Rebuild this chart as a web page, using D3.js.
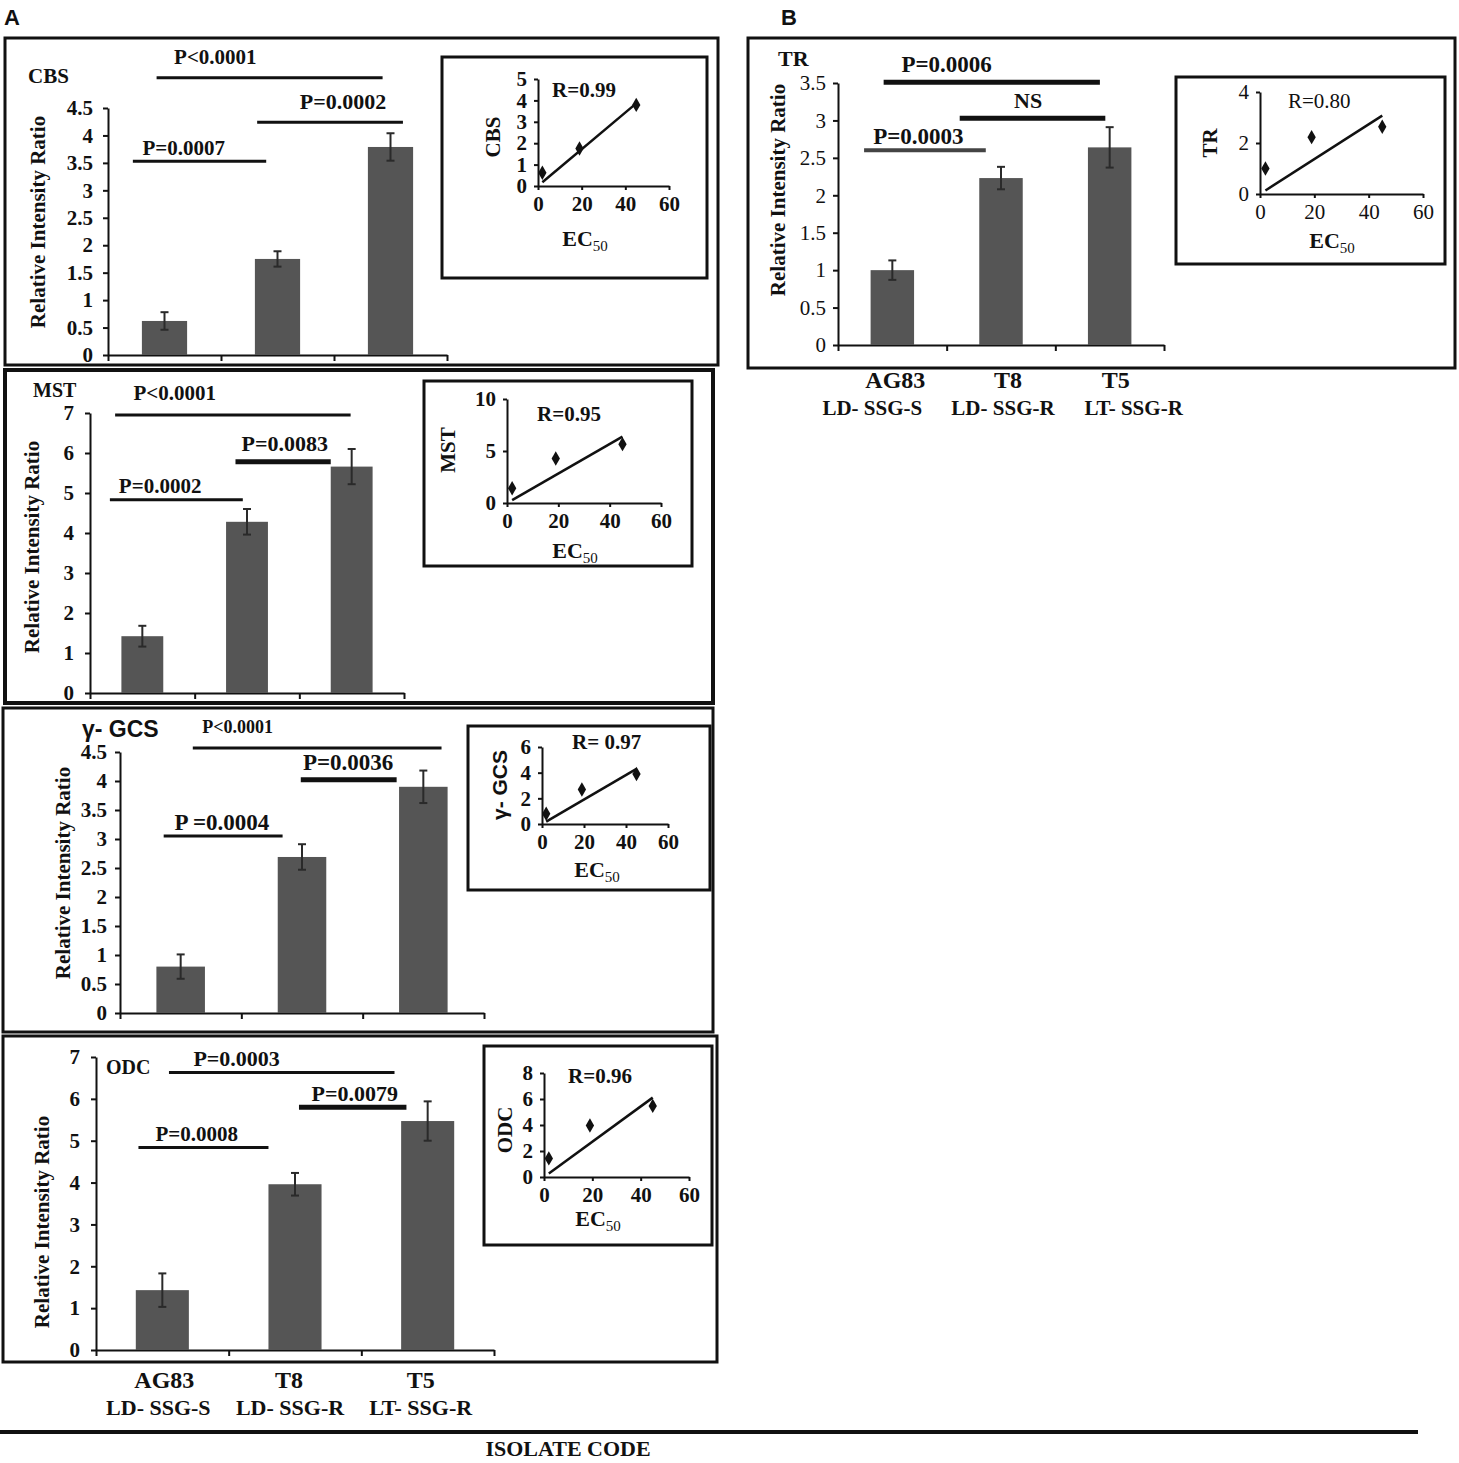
<!DOCTYPE html>
<html>
<head>
<meta charset="utf-8">
<script src="https://cdn.jsdelivr.net/npm/d3@7"></script>
<style>
  body { margin: 0; background: #fff; }
  svg text { font-family: "Liberation Serif", "Times New Roman", serif; font-weight: bold; fill: #111; }
  .tick line, .domain { stroke: #111; stroke-width: 2; }
</style>
</head>
<body>
<svg id="fig" width="1459" height="1463"></svg>
<script>
// isolates and their EC50
const isolates = ["AG83", "T8", "T5"];
const phenotypes = ["LD- SSG-S", "LD- SSG-R", "LT- SSG-R"];
const ec50 = [2, 19, 45];

// relative intensity ratio, mean and error
const cbsMean = [0.62, 1.75, 3.79];
const cbsErr = [0.16, 0.14, 0.25];
const mstMean = [1.42, 4.28, 5.66];
const mstErr = [0.26, 0.32, 0.44];
const gcsMean = [0.80, 2.69, 3.90];
const gcsErr = [0.21, 0.22, 0.28];
const odcMean = [1.43, 3.96, 5.47];
const odcErr = [0.40, 0.27, 0.47];
const trMean = [1.00, 2.23, 2.64];
const trErr = [0.13, 0.15, 0.27];

// p value labels
const cbsP = ["P<0.0001", "P=0.0002", "P=0.0007"];
const mstP = ["P<0.0001", "P=0.0083", "P=0.0002"];
const gcsP = ["P<0.0001", "P=0.0036", "P =0.0004"];
const odcP = ["P=0.0003", "P=0.0079", "P=0.0008"];
const trP = ["P=0.0006", "NS", "P=0.0003"];

// correlation coefficients
const cbsR = "R=0.99", mstR = "R=0.95", gcsR = "R= 0.97", odcR = "R=0.96", trR = "R=0.80";

// tick values
const ticks45 = [0, 0.5, 1, 1.5, 2, 2.5, 3, 3.5, 4, 4.5];
const ticks7 = [0, 1, 2, 3, 4, 5, 6, 7];
const ticks35 = [0, 0.5, 1, 1.5, 2, 2.5, 3, 3.5];
const ec50Ticks = [0, 20, 40, 60];
const cbsInsetTicks = [0, 1, 2, 3, 4, 5];
const mstInsetTicks = [0, 5, 10];
const gcsInsetTicks = [0, 2, 4, 6];
const odcInsetTicks = [0, 2, 4, 6, 8];
const trInsetTicks = [0, 2, 4];

const svg = d3.select("#fig");

// panel frames
const frames = [
    {x: 5, y: 38, w: 713, h: 327, sw: 3},
    {x: 5, y: 370, w: 708, h: 333, sw: 4},
    {x: 3, y: 708, w: 710, h: 324, sw: 3},
    {x: 3, y: 1036, w: 714, h: 326, sw: 3},
    {x: 748, y: 38, w: 707, h: 330, sw: 3}
];
svg.selectAll("rect.frame")
    .data(frames)
    .join("rect")
    .attr("class", "frame")
    .attr("x", d => d.x).attr("y", d => d.y)
    .attr("width", d => d.w).attr("height", d => d.h)
    .attr("fill", "none").attr("stroke", "#111")
    .attr("stroke-width", d => d.sw);

svg.append("text").attr("x", 4).attr("y", 25)
    .style("font-family", "'Liberation Sans', Arial, sans-serif").style("font-size", "22px").text("A");
svg.append("text").attr("x", 781).attr("y", 25)
    .style("font-family", "'Liberation Sans', Arial, sans-serif").style("font-size", "22px").text("B");

function barPanel(c) {
    const g = svg.append("g");
    const x = d3.scaleBand().domain(isolates).range([c.x0, c.x1]).paddingInner(0.6).paddingOuter(0.3);
    const u = d3.scaleLinear().domain([0, 3]).range([c.x0, c.x1]);
    const y = d3.scaleLinear().domain([0, c.ticks[c.ticks.length - 1]]).range([c.y0, c.yTop]);
    const rows = isolates.map((k, i) => ({k, m: c.mean[i], e: c.err[i]}));

    const yAxis = g.append("g")
        .attr("transform", `translate(${c.x0},0)`)
        .call(d3.axisLeft(y).tickValues(c.ticks).tickSize(5).tickSizeOuter(0).tickFormat(d => d));
    yAxis.selectAll("text")
        .style("font-size", "21px")
        .style("font-weight", c.thin ? "normal" : "bold")
        .attr("x", -c.tickGap);

    g.append("g")
        .attr("transform", `translate(0,${c.y0})`)
        .call(d3.axisBottom(u).tickValues([0, 1, 2, 3]).tickSize(6).tickSizeOuter(0).tickFormat(""));

    g.selectAll("rect.bar")
        .data(rows)
        .join("rect")
        .attr("class", "bar")
        .attr("x", d => x(d.k)).attr("width", x.bandwidth())
        .attr("y", d => y(d.m)).attr("height", d => y(0) - y(d.m))
        .attr("fill", "#555");

    const eb = g.selectAll("g.err").data(rows).join("g").attr("class", "err")
        .attr("stroke", "#2a2a2a").attr("stroke-width", 2);
    eb.append("line")
        .attr("x1", d => x(d.k) + x.bandwidth() / 2).attr("x2", d => x(d.k) + x.bandwidth() / 2)
        .attr("y1", d => y(d.m + d.e)).attr("y2", d => y(d.m - d.e));
    eb.append("line")
        .attr("x1", d => x(d.k) + x.bandwidth() / 2 - 4).attr("x2", d => x(d.k) + x.bandwidth() / 2 + 4)
        .attr("y1", d => y(d.m + d.e)).attr("y2", d => y(d.m + d.e));
    eb.append("line")
        .attr("x1", d => x(d.k) + x.bandwidth() / 2 - 4).attr("x2", d => x(d.k) + x.bandwidth() / 2 + 4)
        .attr("y1", d => y(d.m - d.e)).attr("y2", d => y(d.m - d.e));

    // significance bars
    const br = c.brackets.map((b, i) => ({...b, label: c.pLabels[i]}));
    g.selectAll("line.sig")
        .data(br)
        .join("line")
        .attr("class", "sig")
        .attr("x1", d => u(d.from)).attr("x2", d => u(d.to))
        .attr("y1", d => y(d.level)).attr("y2", d => y(d.level))
        .attr("stroke", d => d.color || "#111")
        .attr("stroke-width", d => d.w);
    g.selectAll("text.sig")
        .data(br)
        .join("text")
        .attr("class", "sig")
        .attr("x", d => u(d.tx))
        .attr("y", d => y(d.level) + d.dy)
        .attr("text-anchor", "middle")
        .style("font-size", d => d.fs + "px")
        .text(d => d.label);

    g.append("text")
        .attr("transform", `translate(${c.titleX},${c.titleY}) rotate(-90)`)
        .attr("text-anchor", "middle")
        .style("font-size", "21px")
        .text("Relative Intensity Ratio");

    g.append("text")
        .attr("x", c.nameX).attr("y", c.nameY)
        .style("font-size", c.nameSize + "px")
        .style("font-family", c.nameSans ? "'Liberation Sans', Arial, sans-serif" : null)
        .text(c.name);

    if (c.catY) {
        const shift = c.catShift || [[0, 0], [0, 0], [0, 0]];
        const cl = g.selectAll("g.cat").data(isolates).join("g").attr("class", "cat")
            .attr("transform", d => `translate(${x(d) + x.bandwidth() / 2},${c.catY})`);
        cl.append("text").attr("text-anchor", "middle").attr("x", (d, i) => shift[i][0])
            .style("font-size", "24px").text(d => d);
        cl.append("text").attr("text-anchor", "middle").attr("x", (d, i) => shift[i][1])
            .attr("y", 27).style("font-size", c.catSize + "px")
            .text((d, i) => phenotypes[i]);
    }
}

function inset(c) {
    const g = svg.append("g");
    g.append("rect")
        .attr("x", c.bx).attr("y", c.by).attr("width", c.bw).attr("height", c.bh)
        .attr("fill", "#fff").attr("stroke", "#111").attr("stroke-width", 3);
    const x = d3.scaleLinear().domain([0, 60]).range([c.ox, c.x60]);
    const y = d3.scaleLinear().domain([0, c.ticks[c.ticks.length - 1]]).range([c.oy, c.yTop]);
    const ya = g.append("g").attr("transform", `translate(${c.ox},0)`)
        .call(d3.axisLeft(y).tickValues(c.ticks).tickSize(4).tickSizeOuter(0).tickFormat(d => d));
    const xa = g.append("g").attr("transform", `translate(0,${c.oy})`)
        .call(d3.axisBottom(x).tickValues(ec50Ticks).tickSize(4).tickSizeOuter(0).tickFormat(d => d));
    [ya, xa].forEach(a => a.selectAll("text")
        .style("font-size", "21px").style("font-weight", c.thin ? "normal" : "bold"));
    ya.selectAll("text").attr("x", -11);
    xa.selectAll("text").attr("y", 10);

    // least squares line through the origin
    const slope = d3.sum(ec50, (v, i) => v * c.mean[i]) / d3.sum(ec50, v => v * v);
    const ext = d3.extent(ec50);
    g.append("line")
        .attr("x1", x(ext[0])).attr("y1", y(slope * ext[0]))
        .attr("x2", x(ext[1])).attr("y2", y(slope * ext[1]))
        .attr("stroke", "#111").attr("stroke-width", 2.5);

    g.selectAll("path.pt")
        .data(ec50.map((v, i) => [v, c.mean[i]]))
        .join("path")
        .attr("class", "pt")
        .attr("d", d3.symbol(d3.symbolDiamond, 60))
        .attr("transform", d => `translate(${x(d[0])},${y(d[1])})`)
        .attr("fill", "#111");

    g.append("text").attr("x", c.rx).attr("y", c.ry)
        .style("font-size", "21px").style("font-weight", c.thin ? "normal" : "bold").text(c.r);

    g.append("text")
        .attr("transform", `translate(${c.lx},${c.ly}) rotate(-90)`)
        .attr("text-anchor", "middle")
        .style("font-size", "21px")
        .style("font-family", c.labelSans ? "'Liberation Sans', Arial, sans-serif" : null)
        .text(c.label);

    const ec = g.append("text").attr("x", c.ex).attr("y", c.ey).attr("text-anchor", "middle")
        .style("font-size", "22px");
    ec.append("tspan").text("EC");
    ec.append("tspan").attr("dy", 5).style("font-size", "15px").style("font-weight", "normal").text("50");
}

barPanel({
    name: "CBS", nameX: 28, nameY: 83, nameSize: 21,
    mean: cbsMean, err: cbsErr, ticks: ticks45, pLabels: cbsP, tickGap: 15,
    x0: 108, x1: 447, y0: 355, yTop: 108, titleX: 45, titleY: 222,
    brackets: [
        {from: 0.43, to: 2.43, level: 5.05, tx: 0.95, dy: -14, w: 3, fs: 21},
        {from: 1.32, to: 2.61, level: 4.24, tx: 2.08, dy: -13, w: 3, fs: 22},
        {from: 0.22, to: 1.40, level: 3.53, tx: 0.67, dy: -6, w: 3, fs: 21}
    ]
});
barPanel({
    name: "MST", nameX: 33, nameY: 397, nameSize: 20,
    mean: mstMean, err: mstErr, ticks: ticks7, pLabels: mstP, tickGap: 16,
    x0: 90, x1: 404, y0: 693, yTop: 413, titleX: 39, titleY: 547,
    brackets: [
        {from: 0.24, to: 2.49, level: 6.95, tx: 0.81, dy: -15, w: 3, fs: 21},
        {from: 1.39, to: 2.30, level: 5.78, tx: 1.86, dy: -11, w: 5, fs: 22},
        {from: 0.19, to: 1.46, level: 4.83, tx: 0.67, dy: -7, w: 3, fs: 21}
    ]
});
barPanel({
    name: "γ- GCS", nameX: 82, nameY: 737, nameSize: 23, nameSans: true,
    mean: gcsMean, err: gcsErr, ticks: ticks45, pLabels: gcsP, tickGap: 13,
    x0: 120, x1: 484, y0: 1013, yTop: 752, titleX: 70, titleY: 873,
    brackets: [
        {from: 0.60, to: 2.65, level: 4.57, tx: 0.97, dy: -15, w: 3, fs: 18},
        {from: 1.49, to: 2.28, level: 4.02, tx: 1.88, dy: -10, w: 5, fs: 23},
        {from: 0.36, to: 1.34, level: 3.05, tx: 0.84, dy: -6, w: 3, fs: 23}
    ]
});
barPanel({
    name: "ODC", nameX: 106, nameY: 1074, nameSize: 20,
    mean: odcMean, err: odcErr, ticks: ticks7, pLabels: odcP, tickGap: 16,
    x0: 96, x1: 494, y0: 1350, yTop: 1057, titleX: 49, titleY: 1222,
    catY: 1388, catSize: 22,
    catShift: [[2, -4], [-6, -5], [-7, -7]],
    brackets: [
        {from: 0.55, to: 2.25, level: 6.63, tx: 1.06, dy: -6, w: 3, fs: 22},
        {from: 1.53, to: 2.34, level: 5.80, tx: 1.95, dy: -6, w: 5, fs: 22},
        {from: 0.32, to: 1.30, level: 4.84, tx: 0.76, dy: -6, w: 3, fs: 21}
    ]
});
barPanel({
    name: "TR", nameX: 778, nameY: 66, nameSize: 22, thin: true,
    mean: trMean, err: trErr, ticks: ticks35, pLabels: trP, tickGap: 12,
    x0: 838, x1: 1164, y0: 345, yTop: 83, titleX: 785, titleY: 190,
    catY: 388, catSize: 21,
    catShift: [[3, -20], [7, 2], [6, 24]],
    brackets: [
        {from: 0.42, to: 2.41, level: 3.51, tx: 1.0, dy: -10, w: 5, fs: 23},
        {from: 1.12, to: 2.46, level: 3.03, tx: 1.75, dy: -10, w: 5, fs: 22},
        {from: 0.24, to: 1.36, level: 2.60, tx: 0.74, dy: -6, w: 4, fs: 23, color: "#444"}
    ]
});

inset({bx: 442, by: 57, bw: 265, bh: 221, ox: 538, oy: 186, yTop: 79, x60: 669,
    ticks: cbsInsetTicks, mean: cbsMean, r: cbsR, rx: 552, ry: 97,
    label: "CBS", lx: 500, ly: 137, ex: 585, ey: 246});
inset({bx: 424, by: 381, bw: 268, bh: 185, ox: 507, oy: 503, yTop: 399, x60: 661,
    ticks: mstInsetTicks, mean: mstMean, r: mstR, rx: 537, ry: 421,
    label: "MST", lx: 455, ly: 450, ex: 575, ey: 558});
inset({bx: 468, by: 726, bw: 242, bh: 164, ox: 542, oy: 824, yTop: 747, x60: 668,
    ticks: gcsInsetTicks, mean: gcsMean, r: gcsR, rx: 572, ry: 749,
    label: "γ- GCS", labelSans: true, lx: 507, ly: 785, ex: 597, ey: 877});
inset({bx: 484, by: 1046, bw: 228, bh: 199, ox: 544, oy: 1177, yTop: 1073, x60: 689,
    ticks: odcInsetTicks, mean: odcMean, r: odcR, rx: 568, ry: 1083,
    label: "ODC", lx: 512, ly: 1130, ex: 598, ey: 1226});
inset({bx: 1176, by: 77, bw: 269, bh: 187, ox: 1260, oy: 194, yTop: 92, x60: 1423,
    ticks: trInsetTicks, mean: trMean, r: trR, rx: 1288, ry: 108, thin: true,
    label: "TR", lx: 1217, ly: 143, ex: 1332, ey: 248});

svg.append("line")
    .attr("x1", 0).attr("x2", 1418).attr("y1", 1432).attr("y2", 1432)
    .attr("stroke", "#111").attr("stroke-width", 4);
svg.append("text").attr("x", 568).attr("y", 1456).attr("text-anchor", "middle")
    .style("font-size", "22px").text("ISOLATE CODE");
</script>
</body>
</html>
